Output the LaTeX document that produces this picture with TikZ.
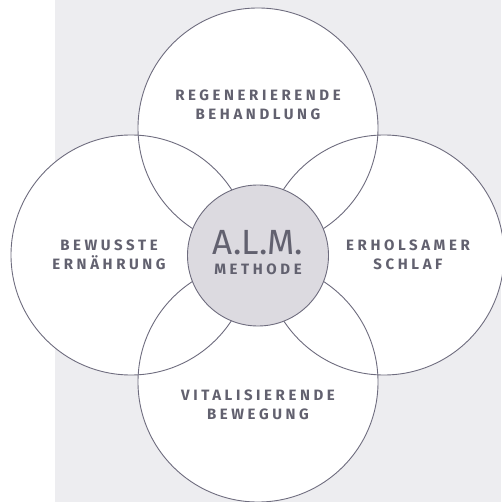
\documentclass[tikz,border=0pt]{standalone}
\usepackage{fontspec}
\setmainfont{Fira Sans}
\newfontfamily\lblfont[LetterSpace=24]{Fira Sans Bold}
\definecolor{bgc}{HTML}{EDEDF0}
\definecolor{linec}{HTML}{6E6C7E}
\definecolor{txtc}{HTML}{62616F}
\definecolor{midc}{HTML}{DCDAE0}
\tikzset{
  bigc/.style={circle,draw=linec,line width=0.9pt,minimum size=240pt,inner sep=0pt},
  midcirc/.style={circle,draw=linec,fill=midc,line width=0.9pt,minimum size=141pt,inner sep=0pt},
  lbl/.style={text=txtc,font=\lblfont\fontsize{15}{19.5}\selectfont,align=center,inner sep=0pt},
  almtext/.style={text=txtc,font=\fontsize{35}{35}\selectfont,inner sep=0pt}
}
\begin{document}
\begin{tikzpicture}[x=1pt,y=-1pt]
\useasboundingbox (0,0) rectangle (501,502);
\fill[bgc] (55,0) rectangle (501,502);
% white fills
\fill[white] (258,128) circle (120);
\fill[white] (131,255) circle (120);
\fill[white] (384,255) circle (120);
\fill[white] (258,382) circle (120);
% outlines
\node[bigc] (top) at (258,128) {};
\node[bigc] (left) at (131,255) {};
\node[bigc] (right) at (384,255) {};
\node[bigc] (bottom) at (258,382) {};
\node[midcirc] (mid) at (258,255.5) {};
% labels
\node[lbl] (ltop) at (258,105) {REGENERIERENDE\\BEHANDLUNG};
\node[lbl] (lleft) at (109,255) {BEWUSSTE\\ERNÄHRUNG};
\node[lbl] (lright) at (408,255) {ERHOLSAMER\\SCHLAF};
\node[lbl] (lbottom) at (258,405) {VITALISIERENDE\\BEWEGUNG};
\node[almtext] (alm) at (258,243) {A.L.M.};
\node[lbl] (meth) at (258,269) {METHODE};
\end{tikzpicture}
\end{document}
